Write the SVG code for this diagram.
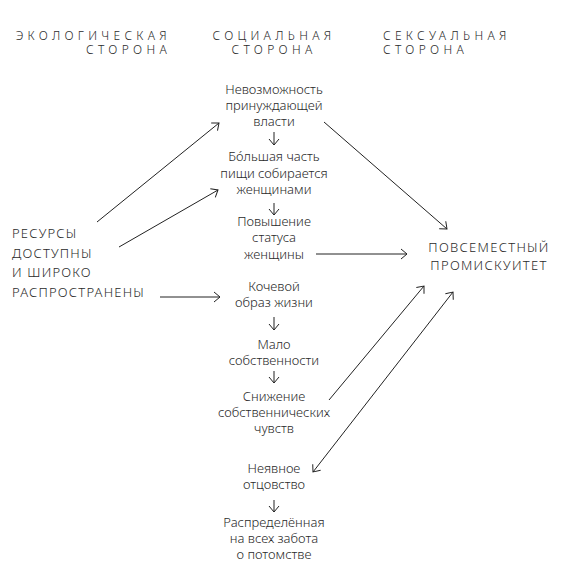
<svg xmlns="http://www.w3.org/2000/svg" width="567" height="573" viewBox="0 0 567 573">
<defs>
<marker id="ah" markerUnits="userSpaceOnUse" markerWidth="14" markerHeight="14" refX="0" refY="0" viewBox="-8 -7 10 14" orient="auto-start-reverse">
<path d="M-6,-5 L0,0 L-6,5" fill="none" stroke="#222" stroke-width="1"/>
</marker>
<style>
text{font-family:"Noto Sans","DejaVu Sans",sans-serif;font-weight:300;fill:#2a2a2a;}
.h{font-size:12px;letter-spacing:4.3px;}
.c{font-size:13px;text-anchor:middle;}
.l{font-size:13px;letter-spacing:1.2px;}
.r{font-size:13px;letter-spacing:1.3px;text-anchor:middle;}
.e{fill:none;stroke:#222;stroke-width:1;marker-end:url(#ah);}
</style>
</defs>
<rect width="567" height="573" fill="#fff"/>
<g id="headers">
<text class="h" x="171" y="40" text-anchor="end">ЭКОЛОГИЧЕСКАЯ</text>
<text class="h" x="171" y="54" text-anchor="end">СТОРОНА</text>
<text class="h" x="274" y="40" text-anchor="middle">СОЦИАЛЬНАЯ</text>
<text class="h" x="274" y="54" text-anchor="middle">СТОРОНА</text>
<text class="h" x="383" y="40">СЕКСУАЛЬНАЯ</text>
<text class="h" x="383" y="54">СТОРОНА</text>
</g>
<g id="resources">
<text class="l" x="12" y="238">РЕСУРСЫ</text>
<text class="l" x="12" y="258">ДОСТУПНЫ</text>
<text class="l" x="12" y="277">И ШИРОКО</text>
<text class="l" x="12" y="297">РАСПРОСТРАНЕНЫ</text>
</g>
<g id="n1">
<text class="c" x="274" y="94">Невозможность</text>
<text class="c" x="274" y="110">принуждающей</text>
<text class="c" x="274" y="126">власти</text>
</g>
<g id="n2">
<text class="c" x="274" y="161">Бо́льшая часть</text>
<text class="c" x="274" y="178">пищи собирается</text>
<text class="c" x="274" y="194">женщинами</text>
</g>
<g id="n3">
<text class="c" x="274" y="226">Повышение</text>
<text class="c" x="274" y="242">статуса</text>
<text class="c" x="274" y="259">женщины</text>
</g>
<g id="n4">
<text class="c" x="274" y="291">Кочевой</text>
<text class="c" x="274" y="307">образ жизни</text>
</g>
<g id="n5">
<text class="c" x="274" y="349">Мало</text>
<text class="c" x="274" y="365">собственности</text>
</g>
<g id="n6">
<text class="c" x="274" y="401">Снижение</text>
<text class="c" x="274" y="417">собственнических</text>
<text class="c" x="274" y="433">чувств</text>
</g>
<g id="n7">
<text class="c" x="274" y="473">Неявное</text>
<text class="c" x="274" y="489">отцовство</text>
</g>
<g id="n8">
<text class="c" x="274" y="527">Распределённая</text>
<text class="c" x="274" y="543">на всех забота</text>
<text class="c" x="274" y="559">о потомстве</text>
</g>
<g id="promiscuity">
<text class="r" x="489" y="252">ПОВСЕМЕСТНЫЙ</text>
<text class="r" x="489" y="270">ПРОМИСКУИТЕТ</text>
</g>
<g id="connectors">
<line class="e" x1="97" y1="222" x2="219" y2="123"/>
<line class="e" x1="119" y1="247" x2="218" y2="190"/>
<line class="e" x1="160" y1="297" x2="220" y2="297"/>
<line class="e" x1="274" y1="132" x2="274" y2="145"/>
<line class="e" x1="274" y1="203" x2="274" y2="215"/>
<line class="e" x1="274" y1="317" x2="274" y2="330"/>
<line class="e" x1="274" y1="371" x2="274" y2="383"/>
<line class="e" x1="274" y1="500" x2="274" y2="512"/>
<line class="e" x1="324" y1="122" x2="447" y2="229"/>
<line class="e" x1="316" y1="254" x2="407" y2="254"/>
<line class="e" x1="329" y1="400" x2="424" y2="286"/>
<line class="e" x1="313" y1="472" x2="453" y2="292" style="marker-start:url(#ah)"/>
</g>
</svg>
